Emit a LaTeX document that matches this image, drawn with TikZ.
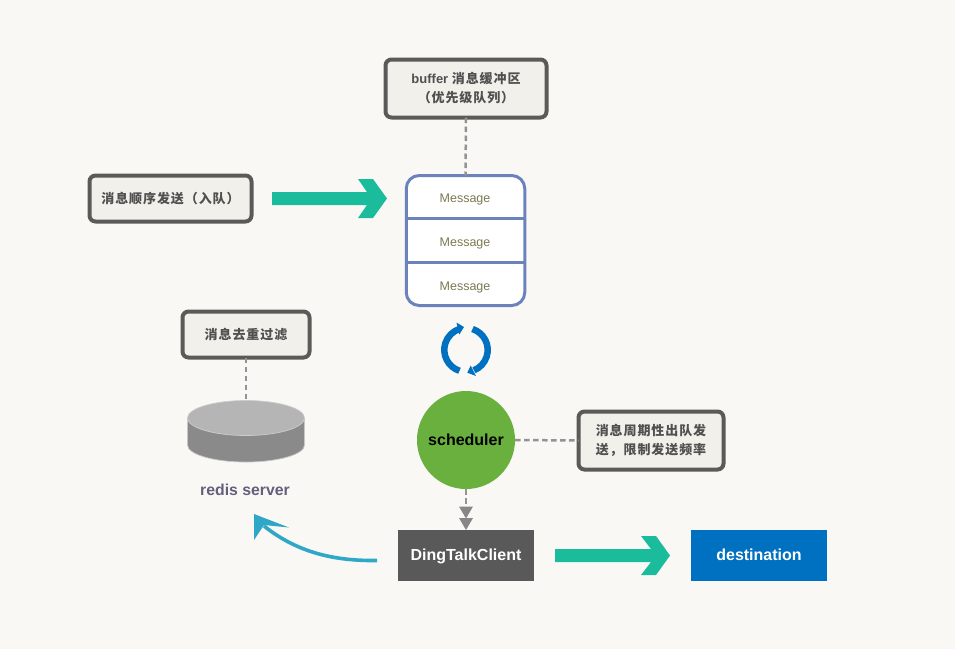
\documentclass[tikz,border=0pt]{standalone}
\usepackage{fontspec}
\setmainfont{Liberation Sans}
\newfontfamily\cjk[LetterSpace=7]{Noto Sans CJK SC Bold}
\usetikzlibrary{shapes.geometric}
\definecolor{bgc}{HTML}{FAF8F5}
\definecolor{boxfill}{HTML}{F1F0EB}
\definecolor{boxline}{HTML}{5A5A58}
\definecolor{txtc}{HTML}{505050}
\definecolor{teal}{HTML}{1ABC9C}
\definecolor{bluec}{HTML}{0070C0}
\definecolor{greenc}{HTML}{6AB03F}
\definecolor{darkc}{HTML}{595959}
\definecolor{curvec}{HTML}{2FA7C6}
\definecolor{stackc}{HTML}{6B82BC}
\definecolor{msgc}{HTML}{7C7A52}
\definecolor{dashc}{HTML}{939393}
\definecolor{redisc}{HTML}{62607A}
\tikzset{
  note/.style={draw=boxline,line width=4pt,fill=boxfill,rounded corners=6pt,inner sep=0pt,outer sep=0pt,align=center,text=txtc,font=\fontsize{13pt}{19pt}\selectfont\bfseries},
  solid box/.style={inner sep=0pt,outer sep=0pt,text=white,font=\fontsize{16pt}{19pt}\selectfont\bfseries,minimum height=51pt,minimum width=136pt,text height=12pt,text depth=2pt},
  msg/.style={text=msgc,font=\fontsize{12.5pt}{15pt}\selectfont,inner sep=0pt},
  link/.style={draw=dashc,line width=2.5pt,dash pattern=on 5.5pt off 3.5pt},
}
\begin{document}
\begin{tikzpicture}[x=1pt,y=-1pt]
\useasboundingbox (0,0) rectangle (955,649);
\fill[bgc] (0,0) rectangle (955,649);

% message stack
\node[draw=stackc,line width=3pt,fill=white,rounded corners=13pt,minimum width=118.5pt,minimum height=130pt,inner sep=0pt,outer sep=0pt] (stack) at (465.5,240.5) {};
\node[msg] (m1) at (465,199.5) {Message};
\node[msg] (m2) at (465,243.5) {Message};
\node[msg] (m3) at (465,287.5) {Message};
\coordinate (d1l) at (stack.west |- 0,218);
\coordinate (d1r) at (stack.east |- 0,218);
\coordinate (d2l) at (stack.west |- 0,262.5);
\coordinate (d2r) at (stack.east |- 0,262.5);
\draw[stackc,line width=3pt] (d1l) -- (d1r);
\draw[stackc,line width=3pt] (d2l) -- (d2r);

% notes
\node[note,minimum width=161pt,minimum height=58pt] (buffer) at (466,88.5) {buffer {\cjk 消息缓冲区}\\{\cjk （优先级队列）}};
\node[note,minimum width=162pt,minimum height=46pt] (enqueue) at (170.5,198.5) {\cjk 消息顺序发送（入队）};
\node[note,minimum width=127pt,minimum height=46pt] (dedupe) at (246,334.5) {\cjk 消息去重过滤};
\node[note,minimum width=145pt,minimum height=58pt] (period) at (651,440.5) {\cjk 消息周期性出队发\\\cjk 送，限制发送频率};

% redis cylinder
\fill[black!46,draw=black!22,line width=.7pt] (187.5,418) -- (187.5,445) arc[start angle=180,end angle=360,x radius=58.5pt,y radius=17pt] -- (304.5,418) -- cycle;
\node[ellipse,fill=black!29,draw=black!20,line width=.7pt,minimum width=117pt,minimum height=35pt,inner sep=0pt,outer sep=0pt] (redis) at (246,418) {};
\node[text=redisc,font=\fontsize{15.8pt}{18pt}\selectfont\bfseries,inner sep=0pt] (redislabel) at (245,490) {redis server};

% scheduler, client, destination
\node[circle,fill=greenc,minimum size=98pt,inner sep=0pt,outer sep=0pt,text=black,font=\fontsize{16pt}{18pt}\selectfont\bfseries] (sched) at (466,440) {scheduler};
\node[solid box,fill=darkc] (client) at (466,555.5) {DingTalkClient};
\node[solid box,fill=bluec] (dest) at (759,555.5) {destination};

% dashed connectors
\draw[link] (buffer.south) -- (stack.north);
\draw[link] (dedupe.south) -- (redis.north);
\draw[link] (sched.east) -- (period.west);
\draw[link,shorten >=24pt] (sched.south) -- (client.north);
\fill[dashc!92!black] (client.north) -- ++(-7,-12) -- ++(14,0) -- cycle;
\fill[dashc!92!black] ([yshift=11.5pt]client.north) -- ++(-7,-12) -- ++(14,0) -- cycle;

% teal arrows
\coordinate (a1) at (272,198.5);
\coordinate (a2) at (555,555.5);
\fill[teal] (a1) ++(0,-6.5) -- ++(95,0) -- ++(-9,-13) -- ++(15,0) -- (387,198.5) -- (373,218) -- ++(-15,0) -- ++(9,-13) -- (272,205) -- cycle;
\fill[teal] (a2) ++(0,-6.5) -- ++(96,0) -- ++(-10,-13) -- ++(15,0) -- (670,555.5) -- (656,575) -- ++(-15,0) -- ++(10,-13) -- (555,562) -- cycle;

% curved arrow
\coordinate (cs) at (377,560.5);
\coordinate (ce) at (264,526);
\draw[curvec,line width=3.6pt] (cs) .. controls (335,561) and (298,553) .. (ce);
\fill[curvec] (254,514) -- (289,527.5) -- (264,525) -- (254,540) -- cycle;

% cycle
\draw[bluec,line width=6.5pt] (459.5,370.8) arc[start angle=252,end angle=108,radius=22pt];
\fill[bluec] (464,327) -- (456.5,322.5) -- (459.3,334.5) -- cycle;
\draw[bluec,line width=6.5pt] (472.5,329) arc[start angle=72,end angle=-68,radius=22pt];
\fill[bluec] (467.3,372.7) -- (476,376) -- (470.7,365.5) -- cycle;
\end{tikzpicture}
\end{document}
